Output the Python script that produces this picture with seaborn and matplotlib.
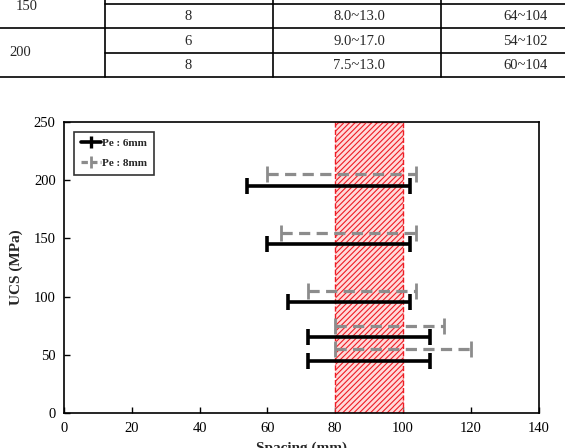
import numpy as np
import matplotlib
matplotlib.use("Agg")
import matplotlib.pyplot as plt
from matplotlib.lines import Line2D
import seaborn as sns

# spacing ranges (mm)
lo_6mm = [72, 72, 66, 60, 54]
hi_6mm = [108, 108, 102, 102, 102]
ucs_6mm = [45, 65, 95, 145, 195]

lo_8mm = [80, 80, 72, 64, 60]
hi_8mm = [120, 112, 104, 104, 104]
ucs_8mm = [55, 75, 105, 155, 205]

band = (80, 100)

# table fragment above the chart
table_rows = [
    ["150", "8", "8.0~13.0", "64~104"],
    ["200", "6", "9.0~17.0", "54~102"],
    ["", "8", "7.5~13.0", "60~104"],
]

sns.set_theme(style="ticks")
plt.rcParams["font.family"] = ["Liberation Serif", "DejaVu Serif"]
plt.rcParams["xtick.direction"] = "in"
plt.rcParams["ytick.direction"] = "in"
plt.rcParams["hatch.linewidth"] = 0.8

fig = plt.figure(figsize=(5.65, 4.48), dpi=100)
W, H = 565, 448

def fx(px):
    return px / W

def fy(py):
    return 1 - py / H

# --- table fragment ---
for y, x0 in [(3.6, 104.7), (28, 0), (53, 104.7), (77, 0)]:
    fig.add_artist(Line2D([fx(x0), 1], [fy(y), fy(y)], color="black", lw=1.2))
for x in [104.7, 273, 441]:
    fig.add_artist(Line2D([fx(x), fx(x)], [fy(0), fy(77)], color="black", lw=1.2))
fig.text(fx(16), fy(6), "150", ha="left", va="center", fontsize=10.5)
fig.text(fx(20), fy(53), "200", ha="center", va="center", fontsize=10.5)
col_x = [188, 359, 525]
row_y = [16, 41.5, 65.7]
for r, row in enumerate(table_rows):
    for c, txt in enumerate(row[1:]):
        fig.text(fx(col_x[c]), fy(row_y[r]), txt, ha="center", va="center", fontsize=10.5)

# --- chart ---
ax = fig.add_axes([64 / W, 1 - 413.3 / H, (538.5 - 64) / W, (413.3 - 121.7) / H])

ax.axvspan(band[0], band[1], facecolor="#ffdada", edgecolor="#ee1c24", hatch="//////",
           linestyle="--", linewidth=1.0, zorder=1)

lo6, hi6 = np.array(lo_6mm), np.array(hi_6mm)
lo8, hi8 = np.array(lo_8mm), np.array(hi_8mm)

eb8 = ax.errorbar((lo8 + hi8) / 2, ucs_8mm, xerr=(hi8 - lo8) / 2, fmt="none",
                  ecolor="#8c8c8c", elinewidth=2.3, capsize=6, capthick=2.0, zorder=3)
eb8[2][0].set_linestyle((0, (3.5, 2)))
eb6 = ax.errorbar((lo6 + hi6) / 2, ucs_6mm, xerr=(hi6 - lo6) / 2, fmt="none",
                  ecolor="black", elinewidth=2.6, capsize=6, capthick=2.6, zorder=4)

ax.set_xlim(0, 140)
ax.set_ylim(0, 250)
ax.set_xticks(np.arange(0, 141, 20))
ax.set_yticks(np.arange(0, 251, 50))
ax.tick_params(labelsize=10.5, length=4, width=1, colors="black", pad=6)
for s in ax.spines.values():
    s.set_color("black")
    s.set_linewidth(1.2)
ax.set_xlabel("Spacing (mm)", fontsize=11, fontweight="bold", labelpad=5)
ax.set_ylabel("UCS (MPa)", fontsize=11, fontweight="bold", labelpad=8)

handles = [
    Line2D([], [], color="black", lw=2.6, marker="|", markersize=9, mew=2.4,
           label="Pe : 6mm"),
    Line2D([], [], color="#8c8c8c", lw=2.3, ls=(0, (2, 1)), marker="|", markersize=9,
           mew=2.0, label="Pe : 8mm"),
]
leg = ax.legend(handles=handles, loc="upper left",
                prop={"weight": "bold", "size": 8}, frameon=True, fancybox=False,
                edgecolor="black", handlelength=1.8, handletextpad=0.1,
                borderpad=0.6, labelspacing=0.9, bbox_to_anchor=(0.01, 0.985))
leg.get_frame().set_linewidth(1.2)

fig.savefig("out.png", dpi=100)
